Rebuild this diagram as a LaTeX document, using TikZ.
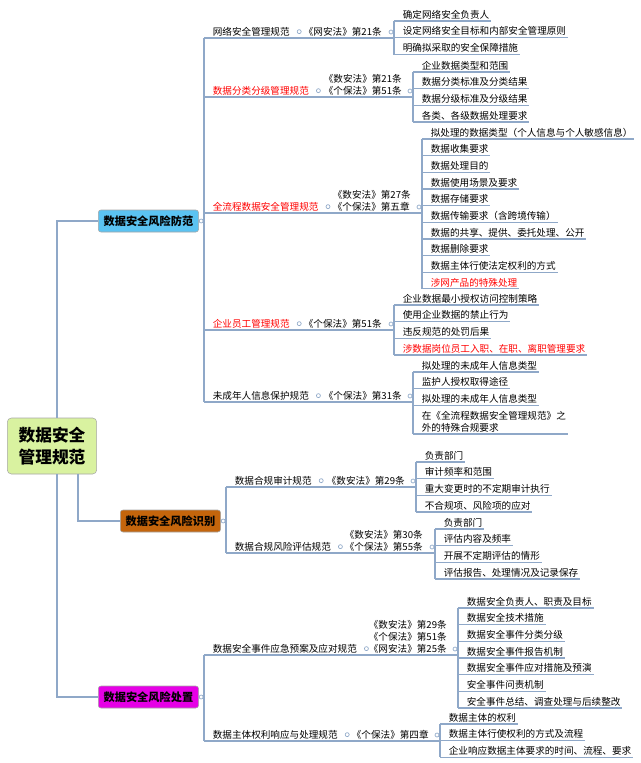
\documentclass[tikz,border=0pt]{standalone}
\usepackage{fontspec}
\setmainfont{Noto Sans CJK SC}
\usetikzlibrary{positioning}
\definecolor{lnc}{HTML}{8FA8C8}
\definecolor{rootc}{HTML}{D9F2A0}
\definecolor{bluec}{HTML}{5BC3F2}
\definecolor{brownc}{HTML}{C4650C}
\definecolor{magc}{HTML}{E600E6}
\tikzset{
  ln/.style={lnc,line width=0.9pt},
  leaf/.style={inner sep=1.2pt,font=\fontsize{7.2}{8.8}\selectfont,anchor=south west,align=left},
  topic/.style={draw=gray!70,rounded corners=2pt,font=\fontsize{8.4}{10}\selectfont\bfseries,minimum height=16.5pt,inner xsep=4pt},
  knob/.style={circle,draw=lnc,fill=white,inner sep=0pt,minimum size=3pt,line width=0.5pt}
}
% leaves on a bracket: x of bracket, first underline y, list
\newcommand\leafset[3]{%
  \foreach \t [count=\i] in {#3}{%
    \pgfmathsetmacro\yy{#2+(\i-1)*16.65}
    \node[leaf] (lf\i) at (#1+7,\yy) {\t};
    \draw[ln] (#1,\yy) -- (lf\i.south east);
  }}
% sub topic with law text: name, branch x, y, text, law x, law text, bracket x, first y, last y
\newcommand\subtopic[9]{%
  \node[leaf] (#1) at (#2+7,#3) {#4};
  \node[knob,right=4pt of #1.east] (#1k) {};
  \node[leaf] (#1law) at (#5,#3) {#6};
  \node[knob] (#1lk) at (#7-3,#3-6) {};
  \draw[ln] (#2,#3) -- (#7,#3);
  \draw[ln] (#7,#8) -- (#7,#9);
}
\begin{document}
\begin{tikzpicture}[x=0.75pt,y=-0.75pt]
\useasboundingbox (0,0) rectangle (640,763);
% root and main topics
\node[draw=gray!70,fill=rootc,rounded corners=3pt,minimum width=67pt,minimum height=42pt,align=center,
  font=\fontsize{12.5}{17}\selectfont\bfseries] (root) at (52,446) {数据安全\\管理规范};
\node[topic,fill=bluec,anchor=west] (b1) at (98,221) {数据安全风险防范};
\node[topic,fill=brownc,anchor=west] (b2) at (120,521) {数据安全风险识别};
\node[topic,fill=magc,anchor=west] (b3) at (98,697) {数据安全风险处置};
\draw[ln] (57,0 |- root.north) -- (57,221) -- (b1.west);
\draw[ln] (57,0 |- root.south) -- (57,697) -- (b3.west);
\draw[ln] (78,0 |- root.south) -- (78,521) -- (b2.west);
\draw[ln] (b1.east) -- (204,221);
\draw[ln] (b2.east) -- (226,521);
\draw[ln] (b3.east) -- (204,697);
\node[knob,right=0pt of b1.east] {};
\node[knob,right=0pt of b2.east] {};
\node[knob,right=0pt of b3.east] {};
\draw[ln] (204,38) -- (204,402);
\draw[ln] (226,487) -- (226,553);
\draw[ln] (204,655) -- (204,741);

% branch 1
\subtopic{s1}{204}{38}{网络安全管理规范}{302}{《网安法》第21条}{394}{21}{55}
\leafset{394}{21}{确定网络安全负责人,设定网络安全目标和内部安全管理原则,明确拟采取的安全保障措施}
\subtopic{s2}{204}{97}{\textcolor{red}{数据分类分级管理规范}}{322}{《数安法》第21条\\《个保法》第51条}{413}{72}{122}
\leafset{413}{72}{企业数据类型和范围,数据分类标准及分类结果,数据分级标准及分级结果,各类、各级数据处理要求}
\subtopic{s3}{204}{213}{\textcolor{red}{全流程数据安全管理规范}}{331}{《数安法》第27条\\《个保法》第五章}{422}{139}{289}
\leafset{422}{139}{拟处理的数据类型（个人信息与个人敏感信息）,数据收集要求,数据处理目的,数据使用场景及要求,数据存储要求,数据传输要求（含跨境传输）,数据的共享、提供、委托处理、公开,数据删除要求,数据主体行使法定权利的方式,\textcolor{red}{涉网产品的特殊处理}}
\subtopic{s4}{204}{330}{\textcolor{red}{企业员工管理规范}}{302}{《个保法》第51条}{394}{305}{355}
\leafset{394}{305}{企业数据最小授权访问控制策略,使用企业数据的禁止行为,违反规范的处罚后果,\textcolor{red}{涉数据岗位员工入职、在职、离职管理要求}}
\subtopic{s5}{204}{402}{未成年人信息保护规范}{322}{《个保法》第31条}{413}{372}{434}
\leafset{413}{372}{拟处理的未成年人信息类型,监护人授权取得途径,拟处理的未成年人信息类型}
\node[leaf] (lfm) at (420,434) {在《全流程数据安全管理规范》之\\外的特殊合规要求};
\draw[ln] (413,434) -- (lfm.south east);

% branch 2
\subtopic{s6}{226}{487}{数据合规审计规范}{325}{《数安法》第29条}{416}{462}{512}
\leafset{416}{462}{负责部门,审计频率和范围,重大变更时的不定期审计执行,不合规项、风险项的应对}
\subtopic{s7}{226}{553}{数据合规风险评估规范}{343}{《数安法》第30条\\《个保法》第55条}{435}{529}{579}
\leafset{435}{529}{负责部门,评估内容及频率,开展不定期评估的情形,评估报告、处理情况及记录保存}

% branch 3
\subtopic{s8}{204}{655}{数据安全事件应急预案及应对规范}{367}{《数安法》第29条\\《个保法》第51条\\《网安法》第25条}{458}{608}{708}
\leafset{458}{608}{数据安全负责人、职责及目标,数据安全技术措施,数据安全事件分类分级,数据安全事件报告机制,数据安全事件应对措施及预演,安全事件问责机制,安全事件总结、调查处理与后续整改}
\subtopic{s9}{204}{741}{数据主体权利响应与处理规范}{350}{《个保法》第四章}{440}{724}{757}
\leafset{440}{724}{数据主体的权利,数据主体行使权利的方式及流程,企业响应数据主体要求的时间、流程、要求}
\end{tikzpicture}
\end{document}
